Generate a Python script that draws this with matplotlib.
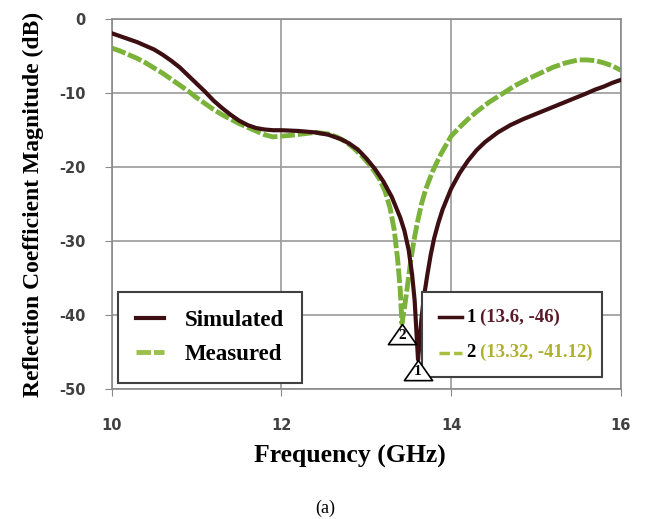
import numpy as np
import matplotlib
matplotlib.use('Agg')
import matplotlib.pyplot as plt
from matplotlib.path import Path
from matplotlib.lines import Line2D
from matplotlib.patches import Rectangle
from matplotlib.offsetbox import TextArea, HPacker, VPacker, DrawingArea, AnchoredOffsetbox

plt.rcParams['axes.unicode_minus'] = False

# data
sim_f = [10.0, 10.1, 10.2, 10.3, 10.4, 10.5, 10.6, 10.7, 10.8, 10.9, 11.0, 11.1, 11.2,
         11.3, 11.4, 11.5, 11.6, 11.7, 11.8, 11.9, 12.0, 12.2, 12.4, 12.55, 12.7, 12.8,
         12.9, 13.0, 13.1, 13.2, 13.3, 13.4, 13.45, 13.5, 13.54, 13.57, 13.59, 13.61,
         13.63, 13.65, 13.68, 13.72, 13.76, 13.8, 13.85, 13.9, 14.0, 14.1, 14.2, 14.3,
         14.4, 14.55, 14.7, 14.85, 15.0, 15.15, 15.3, 15.45, 15.6, 15.7, 15.8, 15.9, 16.0]
sim_db = [-1.9, -2.3, -2.7, -3.1, -3.6, -4.1, -4.8, -5.6, -6.5, -7.6, -8.7, -9.8, -11.0,
          -12.0, -12.9, -13.7, -14.3, -14.7, -14.9, -15.0, -15.0, -15.1, -15.3, -15.6, -16.2, -16.8,
          -17.6, -18.8, -20.2, -21.9, -24.0, -26.8, -28.6, -31.2, -34.5, -38.0, -42.0, -46.0,
          -43.5, -40.5, -37.5, -34.5, -31.8, -29.6, -27.5, -25.7, -22.9, -20.8, -19.1, -17.7,
          -16.6, -15.3, -14.3, -13.5, -12.8, -12.1, -11.4, -10.7, -10.0, -9.5, -9.1, -8.6, -8.2]

meas_f = [10.0, 10.1, 10.2, 10.3, 10.4, 10.5, 10.6, 10.7, 10.8, 10.9, 11.0, 11.1, 11.2,
          11.3, 11.4, 11.5, 11.6, 11.7, 11.8, 11.9, 12.0, 12.1, 12.25, 12.4, 12.55, 12.65,
          12.75, 12.85, 12.95, 13.05, 13.15, 13.22, 13.28, 13.33, 13.37, 13.4, 13.42, 13.45,
          13.48, 13.52, 13.56, 13.6, 13.65, 13.7, 13.78, 13.88, 14.0, 14.1, 14.2, 14.3, 14.45,
          14.6, 14.75, 14.9, 15.05, 15.2, 15.35, 15.5, 15.6, 15.7, 15.8, 15.9, 16.0]
meas_db = [-3.9, -4.3, -4.8, -5.3, -5.9, -6.6, -7.3, -8.1, -8.9, -9.7, -10.6, -11.4, -12.2,
           -12.9, -13.5, -14.1, -14.6, -15.1, -15.6, -15.9, -15.8, -15.7, -15.5, -15.3, -15.5, -15.9,
           -16.5, -17.4, -18.5, -19.8, -21.5, -23.2, -25.5, -28.5, -32.5, -36.5, -41.12, -39.0,
           -36.5, -33.0, -30.0, -27.6, -25.0, -23.0, -20.6, -18.2, -15.8, -14.6, -13.5, -12.5, -11.2,
           -10.1, -9.0, -8.1, -7.3, -6.5, -5.9, -5.5, -5.5, -5.6, -5.9, -6.3, -6.9]

marker_labels = ['1', '2']
marker_text = ['(13.6, -46)', '(13.32, -41.12)']

sim_color = '#3d0f12'
meas_color = '#7ab23a'

fig = plt.figure(figsize=(6.46, 5.19), dpi=100)
ax = fig.add_axes([0.173, 0.250, 0.788, 0.713])

ax.plot(sim_f, sim_db, color=sim_color, lw=3, label='Simulated', zorder=3)
ax.plot(meas_f, meas_db, color=meas_color, lw=3.5, dashes=(3, 0.6), label='Measured', zorder=2)

ax.set_xlim(10, 16)
ax.set_ylim(-50, 0)
ax.set_xticks([10, 12, 14, 16])
ax.set_yticks([0, -10, -20, -30, -40, -50])
ax.grid(True, color='#9a9a9a', lw=1.2)
ax.set_axisbelow(True)
for s in ax.spines.values():
    s.set_color('#8a8a8a')
    s.set_linewidth(1.2)
ax.tick_params(length=5, color='#8a8a8a', labelcolor='#404040', labelsize=10.5)
ax.tick_params(axis='x', pad=16)
ax.tick_params(axis='y', pad=14)
for lab in ax.get_xticklabels() + ax.get_yticklabels():
    lab.set_fontweight('bold')
    lab.set_family('DejaVu Sans')

ax.set_xlabel('Frequency (GHz)', family='Liberation Serif', fontweight='bold', fontsize=18.5)
ax.xaxis.set_label_coords(0.468, -0.15)
ax.set_ylabel('Reflection Coefficient Magnitude (dB)', family='Liberation Serif',
              fontweight='bold', fontsize=17, labelpad=11)
fig.text(0.503, 0.012, '(a)', family='Liberation Serif', fontsize=13, ha='center')

# triangle markers with apex on the minima
tri = Path([(0, 0), (-0.7, -1), (0.7, -1), (0, 0)], [Path.MOVETO, Path.LINETO, Path.LINETO, Path.CLOSEPOLY])
i1 = int(np.argmin(sim_db))
i2 = int(np.argmin(meas_db))
for (fx, dbv), num in zip([(sim_f[i1], sim_db[i1]), (meas_f[i2], meas_db[i2])], marker_labels):
    ax.plot(fx, dbv, marker=tri, markersize=29, markerfacecolor='white',
            markeredgecolor='black', markeredgewidth=1.2, zorder=5, clip_on=False)
    ax.annotate(num, (fx, dbv), xytext=(0, -8.5), textcoords='offset points', ha='center',
                va='center', family='Liberation Serif', fontweight='bold', fontsize=11, zorder=6)

leg = ax.legend(loc='lower left', bbox_to_anchor=(0.012, 0.016), borderaxespad=0,
                prop={'family': 'Liberation Serif', 'weight': 'bold', 'size': 16.5},
                handlelength=1.2, labelspacing=0.55, borderpad=0.8, handletextpad=0.9,
                fancybox=False, framealpha=1, edgecolor='#404040')
leg.get_frame().set_linewidth(1.5)
leg.get_lines()[1].set_color('#9cc04a')

# marker readout box
ax.add_patch(Rectangle((0.609, 0.032), 0.354, 0.230, transform=ax.transAxes,
                       facecolor='white', edgecolor='#404040', lw=1.5, zorder=4))


def marker_row(num, coord, color, tcolor, dashes):
    da = DrawingArea(17, 10, 0, 0)
    ln = Line2D([0, 17], [5, 5], color=color, lw=2.5)
    if dashes:
        ln.set_dashes(dashes)
    da.add_artist(ln)
    tp = dict(family='Liberation Serif', fontweight='bold', fontsize=13.5)
    return HPacker(children=[da, TextArea(num, textprops=dict(color='black', **tp)),
                             TextArea(coord, textprops=dict(color=tcolor, **tp))],
                   pad=0, sep=3, align='center')


rows = VPacker(children=[marker_row(marker_labels[0], marker_text[0], sim_color, '#5a1a28', None),
                         marker_row(marker_labels[1], marker_text[1], '#a8c040', '#b0b030', (3, 1.2))],
               pad=0, sep=13, align='left')
box = AnchoredOffsetbox(loc='center left', child=rows, bbox_to_anchor=(0.642, 0.147),
                        bbox_transform=ax.transAxes, frameon=False, pad=0, borderpad=0)
box.set_zorder(5)
ax.add_artist(box)

fig.savefig('out.png', dpi=100)
